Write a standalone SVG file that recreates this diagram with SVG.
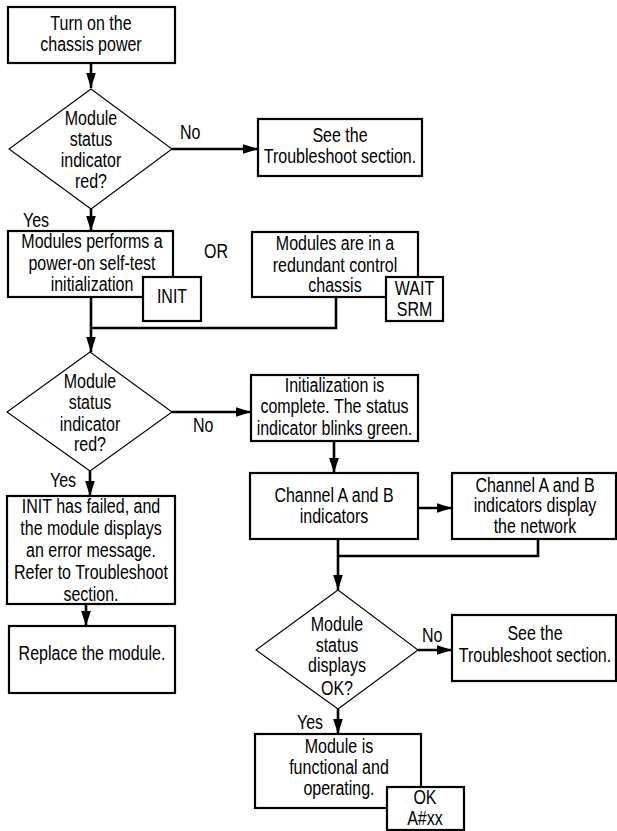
<svg xmlns="http://www.w3.org/2000/svg" width="617" height="831" viewBox="0 0 617 831">
<style>
text{font-family:"Liberation Sans",Arial,sans-serif;font-size:20px;fill:#000;text-anchor:middle}
.box{fill:#fff;stroke:#000;stroke-width:2.2}
.dia{fill:#fff;stroke:#000;stroke-width:1.1}
.con{fill:none;stroke:#000;stroke-width:2.6}
.lbl{text-anchor:start}
</style>
<defs>
<marker id="ah" markerUnits="userSpaceOnUse" markerWidth="16" markerHeight="11" refX="15.5" refY="5.5" orient="auto">
<path d="M0,0.5 L15.5,5.5 L0,10.5 z" fill="#000"/>
</marker>
</defs>
<g id="connectors">
<path class="con" d="M91,63 V88" marker-end="url(#ah)"/>
<path class="con" d="M172,149 H258" marker-end="url(#ah)"/>
<path class="con" d="M91,209 V231" marker-end="url(#ah)"/>
<path class="con" d="M91,297 V352" marker-end="url(#ah)"/>
<path class="con" d="M336,297 V328 H91"/>
<path class="con" d="M172,412 H251" marker-end="url(#ah)"/>
<path class="con" d="M90,471 V496" marker-end="url(#ah)"/>
<path class="con" d="M86,604 V626" marker-end="url(#ah)"/>
<path class="con" d="M334,441 V473" marker-end="url(#ah)"/>
<path class="con" d="M418,508 H452" marker-end="url(#ah)"/>
<path class="con" d="M338,539 V590" marker-end="url(#ah)"/>
<path class="con" d="M538,539 V556 H338"/>
<path class="con" d="M418,650 H452" marker-end="url(#ah)"/>
<path class="con" d="M338,709 V734" marker-end="url(#ah)"/>
</g>
<g id="labels" transform="scale(0.8,1)">
<text class="lbl" x="225" y="139">No</text>
<text class="lbl" x="28.75" y="227">Yes</text>
<text class="lbl" x="255" y="258">OR</text>
<text class="lbl" x="241.25" y="432">No</text>
<text class="lbl" x="62.5" y="487">Yes</text>
<text class="lbl" x="527.5" y="642">No</text>
<text class="lbl" x="371.25" y="729">Yes</text>
</g>
<g id="start">
<rect class="box" x="8" y="7" width="167" height="56"/>
<g transform="scale(0.8,1)">
<text x="113.75" y="30">Turn on the</text>
<text x="113.75" y="51">chassis power</text>
</g>
</g>
<g id="decision1">
<polygon class="dia" points="91,89 172,149 91,209 9,149"/>
<g transform="scale(0.8,1)">
<text x="113.75" y="125">Module</text>
<text x="113.75" y="146">status</text>
<text x="113.75" y="167">indicator</text>
<text x="113.75" y="188">red?</text>
</g>
</g>
<g id="troubleshoot1">
<rect class="box" x="258" y="119" width="164" height="57"/>
<g transform="scale(0.8,1)">
<text x="425" y="142">See the</text>
<text x="425" y="163">Troubleshoot section.</text>
</g>
</g>
<g id="selftest">
<rect class="box" x="8" y="231" width="165" height="66"/>
<g transform="scale(0.8,1)">
<text x="115" y="248">Modules performs a</text>
<text x="115" y="270">power-on self-test</text>
<text x="115" y="291">initialization</text>
</g>
</g>
<g id="init-code">
<rect class="box" x="143" y="277" width="58" height="44"/>
<text x="215" y="303" transform="scale(0.8,1)">INIT</text>
</g>
<g id="redundant">
<rect class="box" x="252" y="232" width="166" height="65"/>
<g transform="scale(0.8,1)">
<text x="418.75" y="250">Modules are in a</text>
<text x="418.75" y="272">redundant control</text>
<text x="418.75" y="292">chassis</text>
</g>
</g>
<g id="wait-code">
<rect class="box" x="386" y="277" width="57" height="44"/>
<g transform="scale(0.8,1)">
<text x="518.125" y="295">WAIT</text>
<text x="518.125" y="316">SRM</text>
</g>
</g>
<g id="decision2">
<polygon class="dia" points="90,352 172,412 90,471 7,412"/>
<g transform="scale(0.8,1)">
<text x="112.5" y="388">Module</text>
<text x="112.5" y="409">status</text>
<text x="112.5" y="431">indicator</text>
<text x="112.5" y="451">red?</text>
</g>
</g>
<g id="init-complete">
<rect class="box" x="251" y="375" width="167" height="66"/>
<g transform="scale(0.8,1)">
<text x="418.125" y="392">Initialization is</text>
<text x="418.125" y="413">complete. The status</text>
<text x="418.125" y="435">indicator blinks green.</text>
</g>
</g>
<g id="init-failed">
<rect class="box" x="7" y="496" width="168" height="108"/>
<g transform="scale(0.8,1)">
<text x="113.75" y="513">INIT has failed, and</text>
<text x="113.75" y="535">the module displays</text>
<text x="113.75" y="557">an error message.</text>
<text x="113.75" y="579">Refer to Troubleshoot</text>
<text x="113.75" y="601">section.</text>
</g>
</g>
<g id="replace">
<rect class="box" x="9" y="626" width="166" height="67"/>
<text x="115" y="660" transform="scale(0.8,1)">Replace the module.</text>
</g>
<g id="channel-ab">
<rect class="box" x="250" y="473" width="168" height="66"/>
<g transform="scale(0.8,1)">
<text x="417.5" y="502">Channel A and B</text>
<text x="417.5" y="523">indicators</text>
</g>
</g>
<g id="channel-network">
<rect class="box" x="452" y="473" width="164" height="66"/>
<g transform="scale(0.8,1)">
<text x="668.75" y="492">Channel A and B</text>
<text x="668.75" y="512">indicators display</text>
<text x="668.75" y="533">the network</text>
</g>
</g>
<g id="decision3">
<polygon class="dia" points="338,590 418,650 338,709 256,650"/>
<g transform="scale(0.8,1)">
<text x="421.25" y="631">Module</text>
<text x="421.25" y="652">status</text>
<text x="421.25" y="672">displays</text>
<text x="421.25" y="695">OK?</text>
</g>
</g>
<g id="troubleshoot2">
<rect class="box" x="452" y="615" width="164" height="66"/>
<g transform="scale(0.8,1)">
<text x="668.75" y="640">See the</text>
<text x="668.75" y="662">Troubleshoot section.</text>
</g>
</g>
<g id="operating">
<rect class="box" x="255" y="734" width="166" height="74"/>
<g transform="scale(0.8,1)">
<text x="423.75" y="753">Module is</text>
<text x="423.75" y="774">functional and</text>
<text x="423.75" y="795">operating.</text>
</g>
</g>
<g id="ok-code">
<rect class="box" x="387" y="787" width="77" height="43"/>
<g transform="scale(0.8,1)">
<text x="531.25" y="804">OK</text>
<text x="531.25" y="825">A#xx</text>
</g>
</g>
</svg>
